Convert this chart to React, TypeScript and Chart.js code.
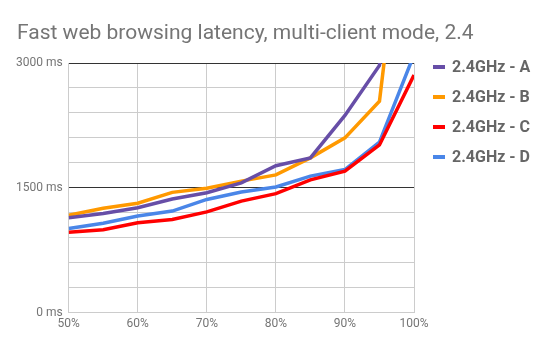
import React, { useEffect, useRef } from "react";
import { Chart, registerables } from "chart.js";

Chart.register(...registerables);

const TITLE = "Fast web browsing latency, multi-client mode, 2.4";
const percents = [50, 55, 60, 65, 70, 75, 80, 85, 90, 95, 100];
const seriesNames = ["2.4GHz - A", "2.4GHz - B", "2.4GHz - C", "2.4GHz - D"];
const seriesA = [1140, 1190, 1260, 1365, 1440, 1560, 1765, 1860, 2370, 2970, 7000];
const seriesB = [1170, 1255, 1315, 1445, 1495, 1580, 1655, 1860, 2100, 2540, 6000];
const seriesC = [965, 995, 1080, 1120, 1210, 1340, 1430, 1595, 1700, 2015, 2855];
const seriesD = [1010, 1075, 1160, 1220, 1360, 1450, 1510, 1640, 1720, 2050, 3100];
const seriesColors = ["#674ea7", "#ff9900", "#ff0000", "#4a86e8"];
const yLabelValues = [0, 1500, 3000];

const FONT = "Roboto, 'Noto Sans', sans-serif";

const overlayPlugin = {
  id: "overlay",
  afterDraw(chart: any) {
    const ctx = chart.ctx;
    ctx.save();
    ctx.fillStyle = "#757575";
    ctx.font = `21px ${FONT}`;
    ctx.textAlign = "left";
    ctx.textBaseline = "alphabetic";
    ctx.fillText(TITLE, 17, 39);
    chart.data.datasets.forEach((ds: any, i: number) => {
      const y = 67 + i * 30;
      ctx.fillStyle = ds.borderColor;
      ctx.fillRect(433, y - 2, 12, 4);
      ctx.fillStyle = "#666666";
      ctx.font = `bold 16px ${FONT}`;
      ctx.textBaseline = "middle";
      ctx.fillText(ds.label, 452, y + 1);
    });
    ctx.restore();
  },
};

export default function App() {
  const ref = useRef<HTMLCanvasElement>(null);
  useEffect(() => {
    document.body.style.margin = "0";
    const all = [seriesA, seriesB, seriesC, seriesD];
    const chart = new Chart(ref.current!, {
      type: "line",
      data: {
        datasets: all.map((vals, i) => ({
          label: seriesNames[i],
          data: vals.map((v, j) => ({ x: percents[j], y: v })),
          borderColor: seriesColors[i],
          backgroundColor: seriesColors[i],
          borderWidth: 3.5,
          pointRadius: 0,
          tension: 0,
          clip: 0,
        })),
      },
      options: {
        responsive: false,
        animation: false,
        devicePixelRatio: 1,
        layout: { padding: { left: 10, right: 136, top: 63, bottom: 13 } },
        plugins: { legend: { display: false }, title: { display: false }, tooltip: { enabled: false } },
        scales: {
          x: {
            type: "linear",
            min: 50,
            max: 100,
            border: { display: true, color: "#cccccc", width: 1 },
            grid: { color: "#cccccc", lineWidth: 1, drawTicks: false },
            ticks: {
              stepSize: 10,
              padding: 4,
              color: "#757575",
              font: { family: FONT, size: 12 },
              maxRotation: 0,
              callback: (v: any) => v + "%",
            },
          },
          y: {
            min: 0,
            max: 3000,
            border: { display: false },
            grid: {
              drawTicks: false,
              color: (c: any) => (c.tick && yLabelValues.includes(c.tick.value) ? "#333333" : "#cccccc"),
              lineWidth: 1,
            },
            ticks: {
              stepSize: 300,
              padding: 6,
              color: "#757575",
              font: { family: FONT, size: 12 },
              autoSkip: false,
              callback: (v: any) => (yLabelValues.includes(v) ? v + " ms" : ""),
            },
          },
        },
      },
      plugins: [overlayPlugin],
    });
    return () => chart.destroy();
  }, []);
  return (
    <div style={{ width: 550, height: 348, background: "#fff" }}>
      <canvas ref={ref} width={550} height={348} />
    </div>
  );
}
